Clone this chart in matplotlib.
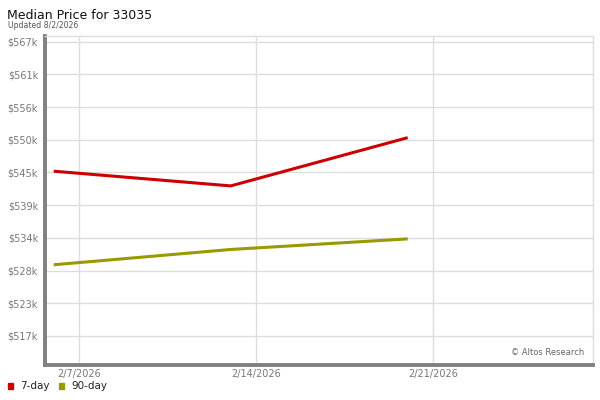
import matplotlib.pyplot as plt
import matplotlib.dates as mdates
import numpy as np
from datetime import datetime, timedelta

# Data
dates = [datetime(2026, 2, 6), datetime(2026, 2, 13), datetime(2026, 2, 20)]
price_7day = [545.0, 542.5, 550.7]      # $k
price_90day = [529.1, 531.7, 533.5]     # $k

tick_dates = [datetime(2026, 2, 7), datetime(2026, 2, 14), datetime(2026, 2, 21)]
tick_labels = ["2/7/2026", "2/14/2026", "2/21/2026"]
y_ticks = [517 + 50 / 9 * k for k in range(10)]

RED = "#cc0000"
OLIVE = "#999900"
GRID = "#dddddd"
SPINE = "#808080"
TEXT = "#777777"

fig = plt.figure(figsize=(6, 4), dpi=100)
ax = fig.add_axes([0.075, 0.0875, 0.913, 0.8225])

ax.plot(dates, price_7day, color=RED, linewidth=2.2, solid_capstyle="butt", zorder=3)
ax.plot(dates, price_90day, color=OLIVE, linewidth=2.2, solid_capstyle="butt", zorder=3)

ax.set_ylim(512.07, 567.97)
x0 = mdates.date2num(tick_dates[0])
ax.set_xlim(x0 - 1.344, mdates.date2num(tick_dates[2]) + 6.32)

ax.set_yticks(y_ticks)
ax.set_yticklabels(["$%dk" % round(v) for v in y_ticks])
ax.set_xticks(tick_dates)
ax.set_xticklabels(tick_labels)

ax.grid(True, color=GRID, linewidth=1)
ax.set_axisbelow(True)
ax.tick_params(length=0, labelsize=7, labelcolor=TEXT)
ax.tick_params(axis="y", pad=5)
ax.tick_params(axis="x", pad=3)

for side in ["left", "bottom"]:
    ax.spines[side].set_color(SPINE)
    ax.spines[side].set_linewidth(2.8)
for side in ["top", "right"]:
    ax.spines[side].set_color(GRID)
    ax.spines[side].set_linewidth(1)

ax.text(0.985, 0.025, "© Altos Research", transform=ax.transAxes,
        ha="right", va="bottom", fontsize=6, color="#666666")

fig.text(0.012, 0.962, "Median Price for 33035", fontsize=9, color="#111111",
         ha="left", va="center")
fig.text(0.013, 0.937, "Updated 8/2/2026", fontsize=5.6, color="#555555",
         ha="left", va="center")

# Legend
fig.patches.append(plt.Rectangle((0.013, 0.027), 0.009, 0.015, color=RED,
                                 transform=fig.transFigure, figure=fig))
fig.text(0.034, 0.035, "7-day", fontsize=7.5, color="#222222", va="center")
fig.patches.append(plt.Rectangle((0.098, 0.027), 0.009, 0.015, color=OLIVE,
                                 transform=fig.transFigure, figure=fig))
fig.text(0.119, 0.035, "90-day", fontsize=7.5, color="#222222", va="center")

fig.savefig("out.png", dpi=100)
